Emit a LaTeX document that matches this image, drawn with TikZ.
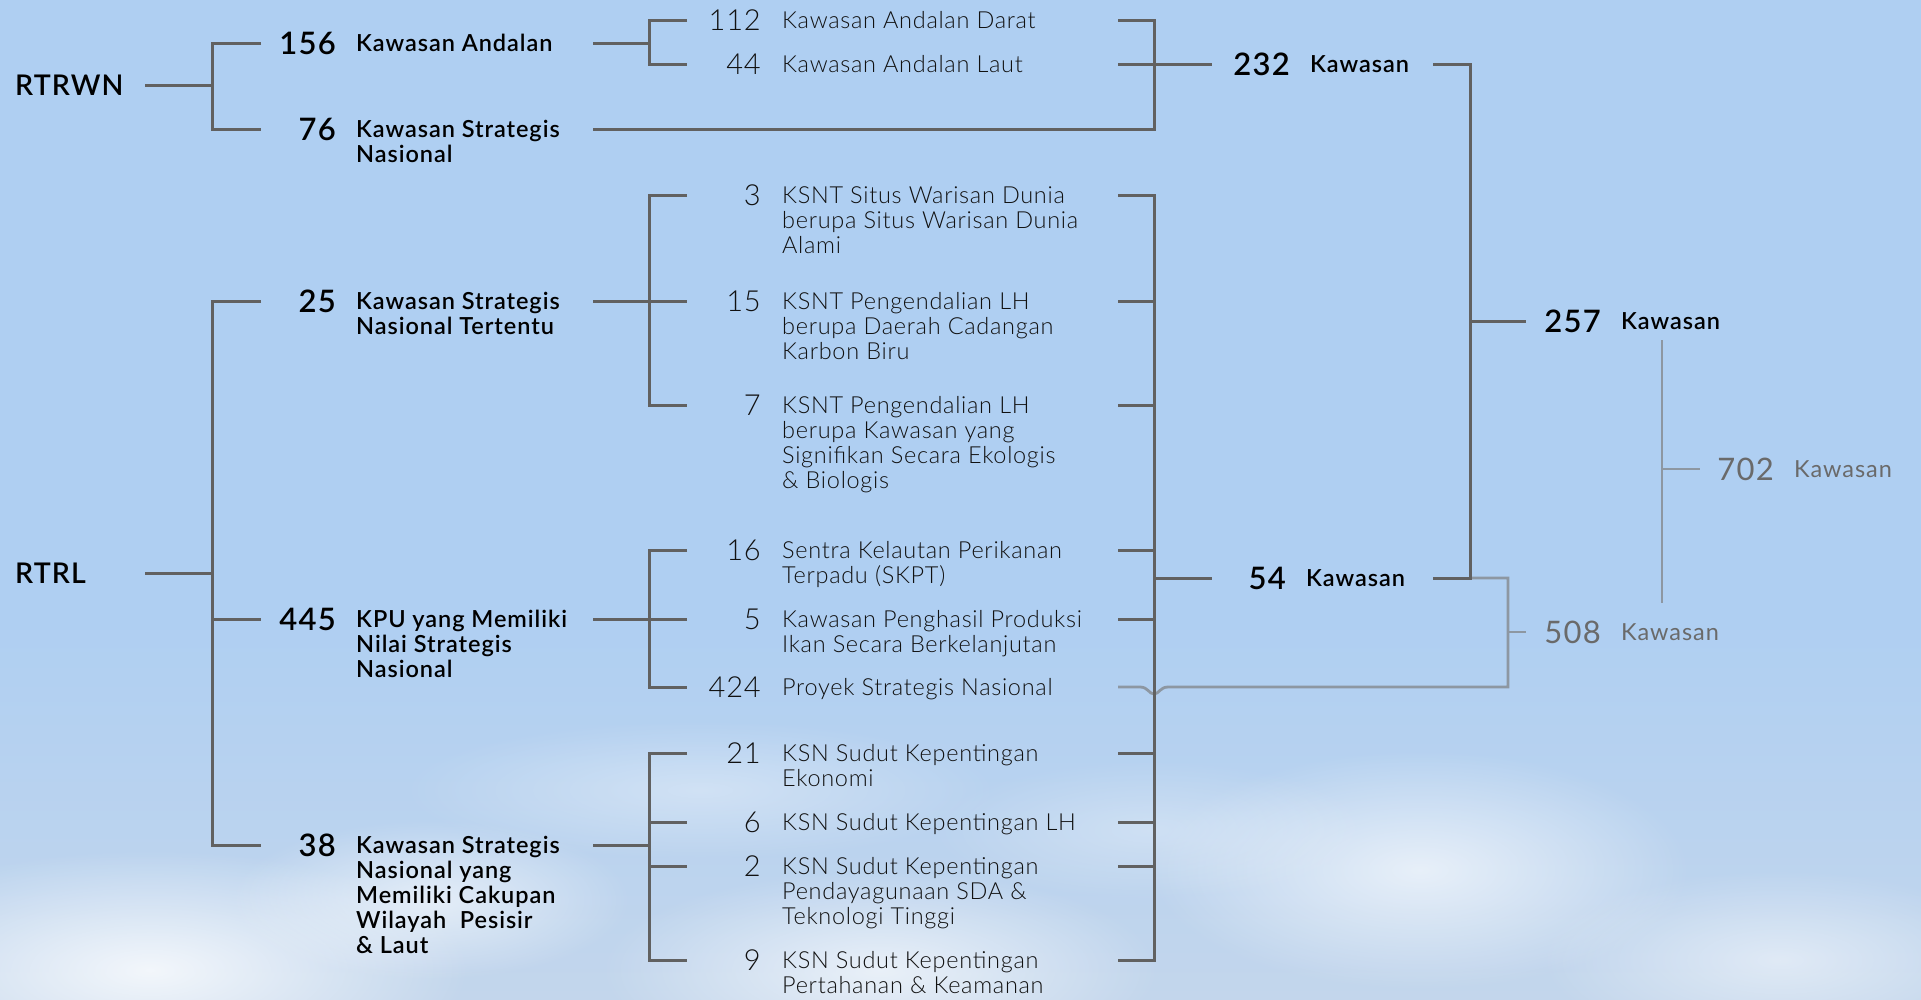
\documentclass[tikz,border=0pt]{standalone}
\usepackage{fontspec}
\setmainfont{Lato}
\newfontfamily\lightf{Lato Light}[LetterSpace=3]
\newfontfamily\semif{Lato Semibold}[LetterSpace=4]
\newfontfamily\regf{Lato}[LetterSpace=4]
\usetikzlibrary{fadings}
\tikzfading[name=softedge, inner color=transparent!0, outer color=transparent!100]
\definecolor{bg}{HTML}{AFCFF2}
\definecolor{bgdown}{HTML}{C3D6EC}
\definecolor{lineC}{HTML}{616161}
\definecolor{grayline}{HTML}{8D97A2}
\definecolor{txtC}{HTML}{111111}
\definecolor{grayT}{HTML}{6A6A6A}
\newcommand\Lines[1]{\vtop{\halign{##\hfil\cr#1\crcr}}}
\tikzset{
  ln/.style={draw=lineC, line width=3pt},
  gln/.style={draw=grayline, line width=2.8pt},
  lvone/.style={anchor=base west, inner sep=0, font=\semif\fontsize{28.5}{30}\selectfont, text=black},
  numtwo/.style={anchor=base east, inner sep=0, font=\semif\fontsize{31}{31}\selectfont, text=black},
  txttwo/.style={anchor=base west, inner sep=0, font=\semif\fontsize{23.5}{25}\selectfont, text=black},
  numthree/.style={anchor=base east, inner sep=0, font=\lightf\fontsize{29}{29}\selectfont, text=txtC},
  txtthree/.style={anchor=base west, inner sep=0, font=\lightf\fontsize{23.5}{25}\selectfont, text=txtC},
  numsum/.style={anchor=base east, inner sep=0, font=\semif\fontsize{31}{31}\selectfont, text=black},
  txtsum/.style={anchor=base west, inner sep=0, font=\semif\fontsize{23.5}{25}\selectfont, text=black},
  numg/.style={anchor=base east, inner sep=0, font=\regf\fontsize{31}{31}\selectfont, text=grayT},
  txtg/.style={anchor=base west, inner sep=0, font=\regf\fontsize{23.5}{25}\selectfont, text=grayT},
  cloud/.style={fill=white, path fading=softedge}
}
\begin{document}
\begin{tikzpicture}[x=1pt,y=-1pt]
\useasboundingbox (0,0) rectangle (1921,1000);
% background
\fill[bg] (0,0) rectangle (1921,1000);
\shade[top color=bg, bottom color=bgdown] (0,620) rectangle (1921,1000);
\fill[cloud, opacity=0.8] (150,970) ellipse (320 and 120);
\fill[cloud, opacity=0.6] (430,900) ellipse (200 and 80);
\fill[cloud, opacity=0.65] (880,970) ellipse (280 and 100);
\fill[cloud, opacity=0.65] (1420,870) ellipse (270 and 120);
\fill[cloud, opacity=0.5] (1780,960) ellipse (240 and 90);
\fill[cloud, opacity=0.35] (700,790) ellipse (300 and 70);
\fill[cloud, opacity=0.3] (1150,830) ellipse (220 and 70);

% ---------- level 1
\node[lvone] (rtrwn) at (15,96) {RTRWN};
\node[lvone] (rtrl) at (15,583) {RTRL};
\coordinate (rtrwnE) at (145,86);
\coordinate (rtrlE) at (145,573);

% ---------- level 2
\node[numtwo] (n156) at (336,55) {156};
\node[txttwo] (t156) at (356,52) {Kawasan Andalan};
\node[numtwo] (n76) at (336,141) {76};
\node[txttwo] (t76) at (356,138) {\Lines{Kawasan Strategis\cr Nasional}};
\node[numtwo] (n25) at (336,312) {25};
\node[txttwo] (t25) at (356,309) {\Lines{Kawasan Strategis\cr Nasional Tertentu}};
\node[numtwo] (n445) at (336,630) {445};
\node[txttwo] (t445) at (356,627) {\Lines{KPU yang Memiliki\cr Nilai Strategis\cr Nasional}};
\node[numtwo] (n38) at (336,856) {38};
\node[txttwo] (t38) at (356,853) {\Lines{Kawasan Strategis\cr Nasional yang\cr Memiliki Cakupan\cr Wilayah\ \ Pesisir\cr \& Laut}};

% ---------- level 3
\node[numthree] (n112) at (761,31) {112};
\node[txtthree] (t112) at (782,29) {Kawasan Andalan Darat};
\node[numthree] (n44) at (761,75) {44};
\node[txtthree] (t44) at (782,73) {Kawasan Andalan Laut};
\node[numthree] (n3) at (761,206) {3};
\node[txtthree] (t3) at (782,204) {\Lines{KSNT Situs Warisan Dunia\cr berupa Situs Warisan Dunia\cr Alami}};
\node[numthree] (n15) at (761,311) {15};
\node[txtthree] (t15) at (782,309) {\Lines{KSNT Pengendalian LH\cr berupa Daerah Cadangan\cr Karbon Biru}};
\node[numthree] (n7) at (761,415) {7};
\node[txtthree] (t7) at (782,413) {\Lines{KSNT Pengendalian LH\cr berupa Kawasan yang\cr Signifikan Secara Ekologis\cr \& Biologis}};
\node[numthree] (n16) at (761,560) {16};
\node[txtthree] (t16) at (782,558) {\Lines{Sentra Kelautan Perikanan\cr Terpadu (SKPT)}};
\node[numthree] (n5) at (761,629) {5};
\node[txtthree] (t5) at (782,627) {\Lines{Kawasan Penghasil Produksi\cr Ikan Secara Berkelanjutan}};
\node[numthree] (n424) at (761,697) {424};
\node[txtthree] (t424) at (782,695) {Proyek Strategis Nasional};
\node[numthree] (n21) at (761,763) {21};
\node[txtthree] (t21) at (782,761) {\Lines{KSN Sudut Kepentingan\cr Ekonomi}};
\node[numthree] (n6) at (761,832) {6};
\node[txtthree] (t6) at (782,830) {KSN Sudut Kepentingan LH};
\node[numthree] (n2) at (761,876) {2};
\node[txtthree] (t2) at (782,874) {\Lines{KSN Sudut Kepentingan\cr Pendayagunaan SDA \&\cr Teknologi Tinggi}};
\node[numthree] (n9) at (761,970) {9};
\node[txtthree] (t9) at (782,968) {\Lines{KSN Sudut Kepentingan\cr Pertahanan \& Keamanan}};

% ---------- sums
\node[numsum] (n232) at (1290,76) {232};
\node[txtsum] (t232) at (1310,73) {Kawasan};
\node[numsum] (n54) at (1286,589) {54};
\node[txtsum] (t54) at (1306,586) {Kawasan};
\node[numsum] (n257) at (1601,332) {257};
\node[txtsum] (t257) at (1621,329) {Kawasan};
\node[numg] (n508) at (1601,643) {508};
\node[txtg] (t508) at (1621,640) {Kawasan};
\node[numg] (n702) at (1774,480) {702};
\node[txtg] (t702) at (1794,477) {Kawasan};

% ---------- gray connectors (drawn below dark lines)
\coordinate (j54) at (1470,578);
\coordinate (c508a) at (1508,578);
\coordinate (c508b) at (1508,687);
\coordinate (c508m) at (1508,632);
\coordinate (s508) at (1526,632);
\coordinate (jumpR) at (1168,687);
\coordinate (jumpL) at (1140,687);
\coordinate (s424) at (1118,687);
\draw[gln] (j54) -- (c508a) -- (c508b) -- (jumpR)
  .. controls (1160,687) and (1159,694) .. (1154,694)
  .. controls (1149,694) and (1148,687) .. (jumpL) -- (s424);
\draw[gln] (c508m) -- (s508);
\coordinate (v702t) at (1662,340);
\coordinate (v702b) at (1662,603);
\coordinate (v702m) at (1662,469);
\coordinate (s702) at (1700,469);
\draw[gln] (v702t) -- (v702b);
\draw[gln] (v702m) -- (s702);

% ---------- level 1 brackets
\draw[ln] (rtrwnE) -- (212,86);
\draw[ln] (261,44) -- (212,44) -- (212,130) -- (261,130);
\draw[ln] (rtrlE) -- (212,573);
\draw[ln] (261,301) -- (212,301) -- (212,845) -- (261,845);
\draw[ln] (212,619) -- (261,619);

% ---------- level 2 -> level 3 brackets
\draw[ln] (593,44) -- (649,44);
\draw[ln] (687,21) -- (649,21) -- (649,65) -- (687,65);
\draw[ln] (593,301) -- (687,301);
\draw[ln] (687,196) -- (649,196) -- (649,405) -- (687,405);
\draw[ln] (593,619) -- (687,619);
\draw[ln] (687,550) -- (649,550) -- (649,687) -- (687,687);
\draw[ln] (593,845) -- (649,845);
\draw[ln] (687,753) -- (649,753) -- (649,960) -- (687,960);
\draw[ln] (649,822) -- (687,822);
\draw[ln] (649,866) -- (687,866);

% ---------- right brackets
\draw[ln] (1118,21) -- (1154,21) -- (1154,130) -- (593,130);
\draw[ln] (1118,65) -- (1212,65);
\draw[ln] (1118,196) -- (1154,196) -- (1154,960) -- (1118,960);
\foreach \yy in {301,405,550,619,753,822,866}
  \draw[ln] (1118,\yy) -- (1154,\yy);
\draw[ln] (1154,578) -- (1212,578);

% ---------- to 257
\draw[ln] (1433,65) -- (1470,65) -- (j54) -- (1433,578);
\draw[ln] (1470,321) -- (1526,321);
\end{tikzpicture}
\end{document}
